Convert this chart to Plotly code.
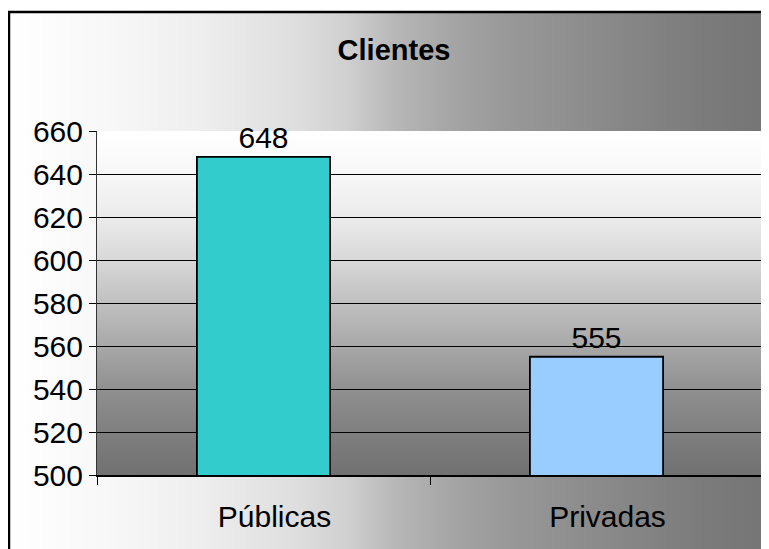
import base64
import struct
import zlib

import plotly.graph_objects as go

# data
categorias = ['Públicas', 'Privadas']
clientes = [648, 555]
cores = ['#33CCCC', '#99CCFF']
y_ticks = [500, 520, 540, 560, 580, 600, 620, 640, 660]

# the page puts the figure 8px in from the top-left corner
OFF = 8
W, H = 769, 549
L, R, T, B = 97 - OFF, W - (763 - OFF), 131 - OFF, H - (475 - OFF)
PW, PH = W - L - R, H - T - B


def px_x(p):
    # page pixel -> paper coordinate
    return (p - OFF - L) / PW


def px_y(p):
    return (H - B - (p - OFF)) / PH


def interp(stops, n):
    out = []
    for i in range(n):
        t = i / (n - 1)
        for (a, ca), (b, cb) in zip(stops, stops[1:]):
            if a <= t <= b:
                f = (t - a) / (b - a) if b > a else 0
                out.append(int(round(ca + (cb - ca) * f)))
                break
    return out


def gray_png(rows):
    def chunk(tag, data):
        return (struct.pack('>I', len(data)) + tag + data +
                struct.pack('>I', zlib.crc32(tag + data) & 0xffffffff))
    h, w = len(rows), len(rows[0])
    raw = b''.join(b'\x00' + bytes(r) for r in rows)
    png = (b'\x89PNG\r\n\x1a\n' +
           chunk(b'IHDR', struct.pack('>IIBBBBB', w, h, 8, 0, 0, 0, 0)) +
           chunk(b'IDAT', zlib.compress(raw)) + chunk(b'IEND', b''))
    return 'data:image/png;base64,' + base64.b64encode(png).decode()


# outer chart area: white -> gray, left to right (page x 8 .. 800)
outer_stops = [(0, 255), (0.12, 248), (0.245, 238), (0.37, 221), (0.43, 207),
               (0.495, 181), (0.56, 165), (0.62, 154), (0.75, 138), (0.87, 124),
               (1.0, 114)]
outer_row = interp(outer_stops, 792)
outer_img = gray_png([outer_row, outer_row])

# plot area: white -> gray, top to bottom
plot_stops = [(0, 255), (0.125, 247), (0.25, 235), (0.375, 216), (0.5, 192),
              (0.625, 168), (0.75, 144), (0.875, 127), (1.0, 113)]
col = interp(plot_stops, PH)
plot_img = gray_png([[v, v] for v in col])

fig = go.Figure(go.Bar(
    x=categorias, y=clientes,
    marker=dict(color=cores, line=dict(color='black', width=1.8)),
    width=0.4,
    text=clientes, textposition='outside', cliponaxis=False,
    textfont=dict(size=30, color='black'),
))

fig.update_layout(
    width=W, height=H,
    margin=dict(l=L, r=R, t=T, b=B),
    paper_bgcolor='white', plot_bgcolor='rgba(0,0,0,0)',
    font=dict(family='Liberation Sans, Arial, sans-serif', color='black', size=30),
    showlegend=False,
    title=dict(text='<b>Clientes</b>', x=px_x(394), xref='paper', xanchor='center',
               y=1 - (50 - OFF) / H, yanchor='middle', font=dict(size=29)),
    images=[
        dict(source=outer_img, xref='paper', yref='paper', x=px_x(8), y=px_y(12),
             sizex=792 / PW, sizey=600 / PH, xanchor='left', yanchor='top',
             sizing='stretch', layer='below'),
        dict(source=plot_img, xref='paper', yref='paper', x=0, y=1,
             sizex=1, sizey=1, xanchor='left', yanchor='top',
             sizing='stretch', layer='below'),
    ],
    shapes=[
        dict(type='rect', xref='paper', yref='paper', x0=px_x(9), y0=px_y(12),
             x1=px_x(820), y1=px_y(620), line=dict(color='black', width=2.5)),
    ],
)

fig.update_yaxes(range=[500, 660], tickvals=y_ticks, showgrid=True,
                 gridcolor='black', gridwidth=1, showline=True, linecolor='#333',
                 linewidth=1, ticks='outside', ticklen=7, tickcolor='black',
                 zeroline=False, tickfont=dict(size=30))
fig.update_xaxes(showgrid=False, showline=True, linecolor='black', linewidth=1.5,
                 ticks='outside', tickson='boundaries', ticklen=8, tickcolor='black',
                 ticklabelstandoff=14, ticklabelshift=11, tickfont=dict(size=30))

fig.write_html('out.html')
